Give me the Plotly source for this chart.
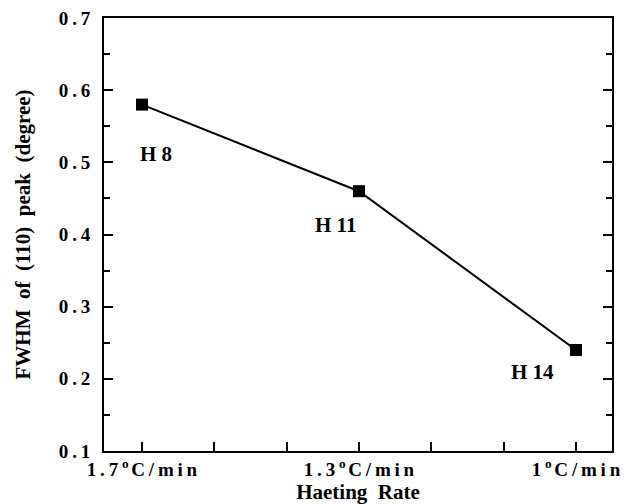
import plotly.graph_objects as go

categories = ["1.7<sup>o</sup>C/min", "1.3<sup>o</sup>C/min", "1<sup>o</sup>C/min"]
x_pos = [0, 1, 2]
fwhm = [0.58, 0.46, 0.24]
labels = ["H 8", "H 11", "H 14"]
label_dx = [0.065, -0.11, -0.2]
label_dy = [-0.068, -0.047, -0.03]
y_ticks = [0.1, 0.2, 0.3, 0.4, 0.5, 0.6, 0.7]

font_family = "Liberation Serif, Times New Roman, serif"
TS = "\u2009"
NB = "\u00a0"


def spaced(s):
    # add thin spaces between characters, keeping <sup> tags intact
    out = []
    i = 0
    while i < len(s):
        if s[i] == "<":
            j = s.index(">", i)
            out.append(s[i:j + 1])
            i = j + 1
        else:
            out.append(s[i] + TS)
            i += 1
    return "".join(out).rstrip(TS)


fig = go.Figure()
fig.add_trace(go.Scatter(
    x=x_pos, y=fwhm, mode="lines+markers",
    line=dict(color="black", width=2),
    marker=dict(symbol="square", size=12, color="black"),
    showlegend=False,
))

for xv, yv, t, dx, dy in zip(x_pos, fwhm, labels, label_dx, label_dy):
    fig.add_annotation(x=xv + dx, y=yv + dy, text="<b>%s</b>" % t, showarrow=False,
                       font=dict(family=font_family, size=21, color="black"))

y_title = ("FWHM" + NB * 2 + "of" + NB * 2 + "(110)" + NB * 2 + "peak" + NB * 2 + "(degree)")
x_title = "Haeting" + NB * 2 + "Rate"

fig.update_layout(
    width=629, height=504,
    margin=dict(l=104, r=17, t=18, b=53),
    plot_bgcolor="white", paper_bgcolor="white",
    font=dict(family=font_family, color="black"),
    xaxis=dict(
        range=[-0.175, 2.166], automargin=False,
        tickmode="array", tickvals=x_pos,
        ticktext=["<b>%s</b>" % spaced(c) for c in categories],
        ticks="inside", ticklen=9, tickwidth=2, tickcolor="black",
        minor=dict(tick0=0, dtick=1/3, ticks="inside", ticklen=9, tickwidth=2, tickcolor="black"),
        showline=True, linecolor="black", linewidth=2, mirror=True,
        showgrid=False, zeroline=False,
        tickfont=dict(size=19, family=font_family, weight="bold"),
        title=dict(text="<b>%s</b>" % x_title, font=dict(size=21, family=font_family, weight="bold"), standoff=6),
    ),
    yaxis=dict(
        range=[0.1, 0.7], automargin=False,
        tickmode="array", tickvals=y_ticks,
        ticktext=["<b>%s</b>" % spaced("%.1f" % v) for v in y_ticks],
        ticks="inside", ticklen=9, tickwidth=2, tickcolor="black",
        minor=dict(dtick=0.05, tick0=0.1, ticks="inside", ticklen=6, tickwidth=2, tickcolor="black"),
        showline=True, linecolor="black", linewidth=2, mirror="ticks",
        showgrid=False, zeroline=False,
        ticklabelstandoff=8,
        tickfont=dict(size=19, family=font_family, weight="bold"),
        title=dict(text="<b>%s</b>" % y_title,
                   font=dict(size=21, family=font_family, weight="bold"), standoff=22),
    ),
)

fig.write_html("out.html")
